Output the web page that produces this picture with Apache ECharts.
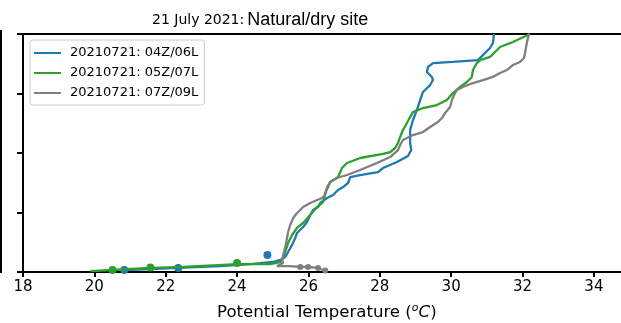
<!DOCTYPE html>
<html><head><meta charset="utf-8">
<script src="https://cdn.jsdelivr.net/npm/echarts@6/dist/echarts.min.js"></script>
<style>html,body{margin:0;padding:0;background:#fff}#c{width:621px;height:323px}</style>
</head><body><div id="c"></div>
<script>
// Series names
const seriesNames = ['20210721: 04Z/06L', '20210721: 05Z/07L', '20210721: 07Z/09L'];
const seriesColors = ['#1f77b4', '#2ca02c', '#7f7f7f'];
// x tick labels
const xTicks = [18, 20, 22, 24, 26, 28, 30, 32, 34];

// Profiles: [potential temperature (C), height]
const blueProfile = [
 [20.84,17],[21.57,25],[22.35,34],[23.53,50],[24.37,67],[25.01,84],[25.21,101],[25.35,126],[25.43,168],
 [25.54,227],[25.63,286],[25.68,328],[25.85,378],[25.96,420],[26.05,479],[26.13,521],[26.27,546],
 [26.33,580],[26.52,622],[26.69,647],[26.83,689],[26.97,714],[27.11,748],[27.17,798],[27.45,815],
 [27.95,840],[28.09,874],[28.48,924],[28.79,975],[28.88,1025],[28.85,1084],[28.85,1193],[28.93,1277],
 [29.04,1361],[29.13,1445],[29.21,1513],[29.41,1571],[29.49,1613],[29.46,1639],[29.32,1681],
 [29.35,1723],[29.49,1756],[30.05,1765],[30.75,1781],[30.89,1823],[31.09,1882],[31.17,1924],[31.20,2000]
];
const greenProfile = [
 [19.89,8],[20.51,17],[21.57,34],[22.49,42],[24.00,67],[24.93,67],[25.21,84],[25.29,118],[25.35,168],
 [25.43,244],[25.54,311],[25.68,370],[25.85,412],[26.05,479],[26.24,546],[26.41,588],[26.47,664],
 [26.55,714],[26.61,756],[26.83,798],[26.94,874],[27.08,916],[27.45,958],[28.09,992],[28.29,1008],
 [28.43,1042],[28.51,1084],[28.57,1134],[28.65,1193],[28.76,1252],[28.85,1302],[28.93,1344],
 [29.21,1378],[29.60,1403],[29.88,1445],[30.05,1504],[30.25,1555],[30.44,1597],[30.58,1639],
 [30.61,1697],[30.72,1756],[30.81,1781],[31.09,1807],[31.23,1849],[31.37,1891],[31.73,1933],
 [32.15,1992],[32.21,2000]
];
const greyProfile = [
 [26.47,8],[26.27,34],[25.99,42],[25.77,42],[25.49,50],[25.12,50],[25.29,76],[25.26,101],[25.29,143],
 [25.35,210],[25.40,286],[25.43,336],[25.49,395],[25.57,454],[25.68,496],[25.77,521],[25.85,546],
 [26.05,580],[26.38,622],[26.47,647],[26.52,714],[26.61,756],[26.80,790],[27.08,815],[27.45,857],
 [27.92,916],[28.29,966],[28.51,1025],[28.57,1067],[28.65,1109],[28.76,1126],[28.93,1151],
 [29.21,1176],[29.41,1218],[29.63,1260],[29.74,1294],[29.83,1336],[29.97,1386],[30.02,1445],
 [30.11,1504],[30.16,1529],[30.33,1555],[30.61,1588],[30.89,1613],[31.17,1639],[31.37,1672],
 [31.56,1697],[31.73,1739],[31.93,1765],[32.04,1798],[32.07,1840],[32.12,1924],[32.18,2000]
];
// Clusters of near-surface samples
const blueClusters = [[20.84,17],[22.35,34],[24.85,143]];
const greenClusters = [[20.51,17],[21.57,38],[24.00,76]];
const greyClusters = [[25.77,42],[25.99,42],[26.27,34],[26.47,12]];

const profiles = [blueProfile, greenProfile, greyProfile];
const clusters = [blueClusters, greenClusters, greyClusters];
const clusterSizes = [8, 8, 6];

const chart = echarts.init(document.getElementById('c'), null, {renderer: 'canvas'});
const series = [];
profiles.forEach((p, i) => {
  series.push({
    name: seriesNames[i], type: 'line', data: p, showSymbol: false, symbol: 'none',
    lineStyle: {width: 2.3, color: seriesColors[i]}, itemStyle: {color: seriesColors[i]},
    animation: false, z: 2 + i
  });
});
clusters.forEach((c, i) => {
  series.push({
    name: 'cl' + i, type: 'scatter', data: c, symbolSize: clusterSizes[i],
    itemStyle: {color: seriesColors[i], opacity: 1}, animation: false, z: 2 + i
  });
});

chart.setOption({
  animation: false,
  backgroundColor: '#fff',
  grid: {left: 23, right: 0, top: 34, bottom: 51, containLabel: false},
  title: {
    text: '{a|21 July 2021:}{b|Natural/dry site}',
    left: 152, top: 11, padding: 0,
    textStyle: {fontWeight: 'normal', rich: {
      a: {fontFamily: 'DejaVu Sans', fontSize: 14, fontWeight: 'normal', color: '#000'},
      b: {fontFamily: 'Liberation Sans', fontSize: 18, fontWeight: 'normal', color: '#000', padding: [0, 0, 0, 3]}
    }}
  },
  legend: {
    data: seriesNames, orient: 'vertical', left: 30, top: 40,
    icon: 'rect', itemWidth: 27, itemHeight: 2, itemGap: 6,
    padding: [6, 6, 5, 4],
    backgroundColor: '#fff', borderColor: '#cccccc', borderWidth: 1, borderRadius: 3,
    textStyle: {fontFamily: 'DejaVu Sans', fontSize: 13, color: '#000', lineHeight: 14, padding: [0, 0, 0, 4]}
  },
  xAxis: [{
    type: 'value', min: 18, max: 34.76, interval: 2,
    axisLine: {show: true, onZero: false, lineStyle: {color: '#000', width: 2}},
    axisTick: {show: true, length: 5, lineStyle: {color: '#000', width: 2}},
    axisLabel: {show: true, fontFamily: 'DejaVu Sans', fontSize: 15, color: '#000', margin: 8,
      showMaxLabel: false,
      formatter: v => (xTicks.indexOf(v) >= 0 ? String(v) : '')},
    splitLine: {show: false}
  }, {
    type: 'value', position: 'top', min: 18, max: 34.76,
    axisLine: {show: true, onZero: false, lineStyle: {color: '#000', width: 2}},
    axisTick: {show: false}, axisLabel: {show: false}, splitLine: {show: false}
  }],
  yAxis: {
    type: 'value', min: 0, max: 2000, interval: 500,
    axisLine: {show: true, onZero: false, lineStyle: {color: '#000', width: 2}},
    axisTick: {show: true, length: 6, lineStyle: {color: '#000', width: 2}},
    axisLabel: {show: false}, splitLine: {show: false}
  },
  graphic: [
    {type: 'rect', shape: {x: 0, y: 30, width: 2, height: 243}, style: {fill: '#000'}},
    {type: 'text', left: 217, top: 303, style: {
      text: '{n|Potential Temperature (}{s|o}{i|C}{n|)}',
      rich: {
        n: {fontFamily: 'DejaVu Sans', fontSize: 16.6, fill: '#000', lineHeight: 20},
        s: {fontFamily: 'DejaVu Sans', fontSize: 11, fontStyle: 'italic', fill: '#000', lineHeight: 20, verticalAlign: 'top', padding: [0, 0, 7, 0]},
        i: {fontFamily: 'DejaVu Sans', fontSize: 16.6, fontStyle: 'italic', fill: '#000', lineHeight: 20}
      }
    }}
  ],
  series: series
});
</script></body></html>
